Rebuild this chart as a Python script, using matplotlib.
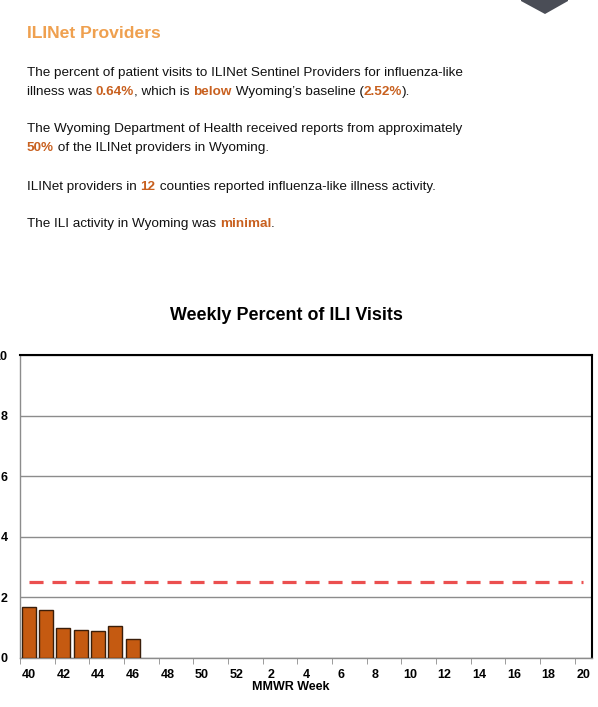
import numpy as np
import matplotlib
matplotlib.use('Agg')
import matplotlib.pyplot as plt
from matplotlib.patches import Polygon

plt.rcParams['font.family'] = ['Liberation Sans', 'DejaVu Sans']

# ==========================================
# DATA
# ==========================================
weeks = [str(w) for w in list(range(40, 53)) + list(range(1, 21))]
ili_pct = [1.69, 1.59, 0.99, 0.92, 0.89, 1.06, 0.64]
baseline = 2.52
y_ticks = [0, 2, 4, 6, 8, 10]

ORANGE = '#C8601F'
TITLE_ORANGE = '#EFA04F'
BAR = '#C55A11'

W, H = 598, 707
fig = plt.figure(figsize=(W / 100, H / 100), dpi=100)
renderer = fig.canvas.get_renderer()


def px(x, y):
    """pixel coords (top-left origin) -> figure fraction"""
    return x / W, 1 - y / H


def rich_line(x, y, parts, size=9.7):
    """draw a line made of (text, highlighted) pieces"""
    cx = x
    for txt, hl in parts:
        t = fig.text(*px(cx, y), txt, fontsize=size, va='center', ha='left',
                     color=ORANGE if hl else '#111111',
                     fontweight='bold' if hl else 'normal')
        bb = t.get_window_extent(renderer)
        cx += bb.width


# ==========================================
# HEADER TEXT
# ==========================================
fig.text(*px(27, 33), 'ILINet Providers', fontsize=12.6, fontweight='bold',
         color=TITLE_ORANGE, va='center', ha='left')

rich_line(27, 73, [('The percent of patient visits to ILINet Sentinel Providers for influenza-like', False)])
rich_line(27, 92, [('illness was ', False), ('0.64%', True), (', which is ', False), ('below', True),
                   (' Wyoming\u2019s baseline (', False), ('2.52%', True), (').', False)])
rich_line(27, 129, [('The Wyoming Department of Health received reports from approximately', False)])
rich_line(27, 148, [('50%', True), (' of the ILINet providers in Wyoming.', False)])
rich_line(27, 187, [('ILINet providers in ', False), ('12', True),
                    (' counties reported influenza-like illness activity.', False)])
rich_line(27, 224, [('The ILI activity in Wyoming was ', False), ('minimal', True), ('.', False)])

# dark chevron at top right
chev = Polygon([px(521, 0), px(568, 0), px(568, 1), px(545, 14), px(521, 1)],
               closed=True, transform=fig.transFigure, color='#4A4D56', lw=0)
fig.patches.append(chev)

# ==========================================
# CHART
# ==========================================
ax = fig.add_axes([20 / W, (H - 658) / H, 572 / W, 303 / H])
x = np.arange(len(weeks)) + 0.5
ax.bar(x[:len(ili_pct)], ili_pct, width=0.8, color=BAR, edgecolor='#3a1e0a',
       linewidth=1, zorder=3)
ax.plot([x[0], x[-1]], [baseline, baseline], color='#EB4F4F', lw=2.3,
        dashes=(4.4, 2.8), zorder=4)

ax.set_xlim(0, len(weeks))
ax.set_ylim(0, 10)
ax.set_yticks(y_ticks)
ax.set_yticklabels([str(v) for v in y_ticks], fontsize=9, fontweight='bold')
ax.tick_params(axis='y', length=0, pad=9)
ax.grid(True, axis='y', color='#8c8c8c', lw=1, zorder=0)

ax.set_xticks(x[::2])
ax.set_xticklabels(weeks[::2], fontsize=9, fontweight='bold')
ax.set_xticks(np.arange(0, len(weeks) + 1, 2), minor=True)
ax.tick_params(axis='x', which='major', length=0, pad=8)
ax.tick_params(axis='x', which='minor', length=4, color='#8c8c8c')

for s in ['left', 'bottom']:
    ax.spines[s].set_color('#8c8c8c')
    ax.spines[s].set_linewidth(1)
for s in ['top', 'right']:
    ax.spines[s].set_color('black')
    ax.spines[s].set_linewidth(1.5)

fig.text(*px(286, 316), 'Weekly Percent of ILI Visits', fontsize=12.9,
         fontweight='bold', ha='center', va='center')
fig.text(*px(291, 687), 'MMWR Week', fontsize=9, fontweight='bold',
         ha='center', va='center')

plt.savefig('out.png', dpi=100)
plt.close()
